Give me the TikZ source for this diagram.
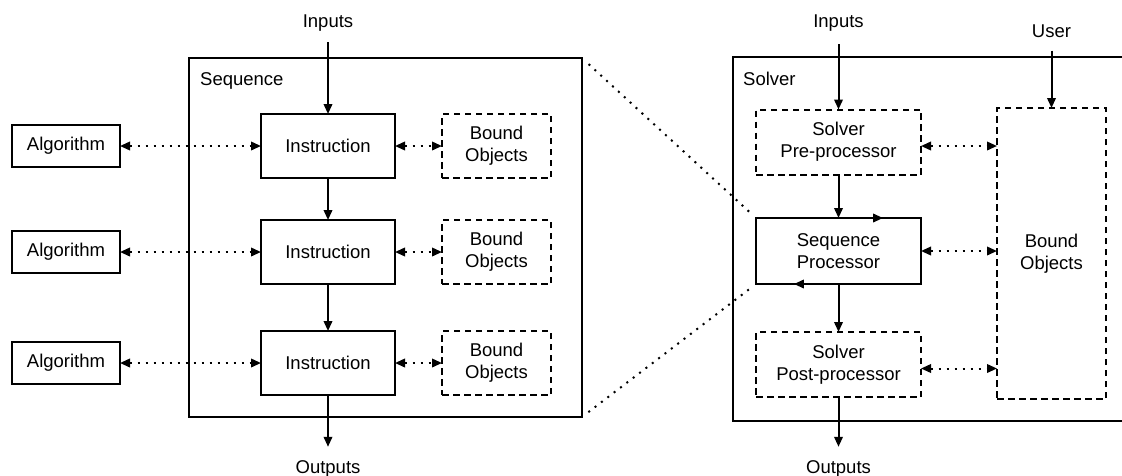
\documentclass[tikz,border=0pt]{standalone}
\usepackage{fontspec}
\setmainfont{Liberation Sans}
\usetikzlibrary{arrows.meta,calc}
\newcommand\dfont{\fontsize{18.5}{22}\selectfont}
\begin{document}
\begin{tikzpicture}[x=1pt,y=-1pt,
  solidbox/.style={draw,line width=2pt,inner sep=0pt,outer sep=0pt,align=center,font=\dfont},
  dashbox/.style={solidbox,dash pattern=on 6.5pt off 4.5pt},
  frame/.style={draw,line width=2pt,inner sep=0pt,outer sep=0pt},
  lbl/.style={inner sep=0pt,font=\dfont,text height=13pt,text depth=4pt},
  arr/.style={line width=2pt,-{Triangle[length=10pt,width=8.5pt]}},
  darr/.style={line width=2pt,dash pattern=on 2pt off 6pt,
    {Triangle[length=10pt,width=8.5pt]}-{Triangle[length=10pt,width=8.5pt]}},
  dotline/.style={line width=2pt,dash pattern=on 2pt off 6pt},
  alg/.style={solidbox,minimum width=108pt,minimum height=42pt},
  instr/.style={solidbox,minimum width=134pt,minimum height=64pt},
  bound/.style={dashbox,minimum width=109pt,minimum height=64pt},
  proc/.style={minimum width=165pt,minimum height=65pt}
]
\useasboundingbox (0,0) rectangle (1122,475);

% ---------- left: Sequence ----------
\node[frame,minimum width=393pt,minimum height=359pt] (seq) at (385.5,237.5) {};
\node[lbl,anchor=base west] (seqlbl) at (200,85) {Sequence};

\node[instr] (i1) at (328,146) {Instruction};
\node[instr] (i2) at (328,252) {Instruction};
\node[instr] (i3) at (328,363) {Instruction};

\node[bound] (b1) at (496.5,146) {Bound\\Objects};
\node[bound] (b2) at (496.5,252) {Bound\\Objects};
\node[bound] (b3) at (496.5,363) {Bound\\Objects};

\node[alg] (a1) at (66,146) {Algorithm};
\node[alg] (a2) at (66,252) {Algorithm};
\node[alg] (a3) at (66,363) {Algorithm};

\node[lbl,anchor=base] (inL) at (328,27) {Inputs};
\node[lbl,anchor=base] (outL) at (328,473) {Outputs};

\draw[arr,shorten <=11pt] (inL.south) -- (i1.north);
\draw[arr] (i1.south) -- (i2.north);
\draw[arr] (i2.south) -- (i3.north);
\draw[arr,shorten >=13pt] (i3.south) -- (outL.north);

\draw[darr] (a1.east) -- (i1.west);
\draw[darr] (a2.east) -- (i2.west);
\draw[darr] (a3.east) -- (i3.west);
\draw[darr] (i1.east) -- (b1.west);
\draw[darr] (i2.east) -- (b2.west);
\draw[darr] (i3.east) -- (b3.west);

% ---------- right: Solver ----------
\draw[line width=2pt] (1124,57) -- (733,57) -- (733,421) -- (1124,421);
\node[lbl,anchor=base west] (solvlbl) at (743,85) {Solver};

\node[dashbox,proc] (pre) at (838.5,142) {Solver\\Pre-processor};
\node[solidbox,proc,minimum height=66pt] (sp) at (838.5,251) {Sequence\\Processor};
\node[dashbox,proc] (post) at (838.5,364.5) {Solver\\Post-processor};
\node[dashbox,minimum width=109pt,minimum height=291pt] (bo) at (1051.5,253.5) {Bound\\Objects};

\node[lbl,anchor=base] (inR) at (838.5,27) {Inputs};
\node[lbl,anchor=base] (user) at (1051.5,37.5) {User};
\node[lbl,anchor=base] (outR) at (838.5,473) {Outputs};

\draw[arr,shorten <=13pt] (inR.south) -- (pre.north);
\draw[arr,shorten <=9pt] (user.south) -- (bo.north);
\draw[arr] (pre.south) -- (sp.north);
\draw[arr] (sp.south) -- (post.north);
\draw[arr,shorten >=13pt] (post.south) -- (outR.north);

\coordinate (pe) at ($(pre.east)+(0,4)$);
\coordinate (poe) at ($(post.east)+(0,4)$);
\draw[darr] (pe) -- (pe -| bo.west);
\draw[darr] (sp.east) -- (sp.east -| bo.west);
\draw[darr] (poe) -- (poe -| bo.west);

% loop marks on the Sequence Processor
\draw[arr] (sp.north west) -- ($(sp.north west)!0.77!(sp.north east)$);
\draw[arr] (sp.south east) -- ($(sp.south east)!0.77!(sp.south west)$);

% zoom lines
\draw[dotline,shorten <=9pt,shorten >=9pt] (seq.north east) -- (sp.north west);
\draw[dotline,shorten <=8pt,shorten >=8pt] (seq.south east) -- (sp.south west);
\end{tikzpicture}
\end{document}
